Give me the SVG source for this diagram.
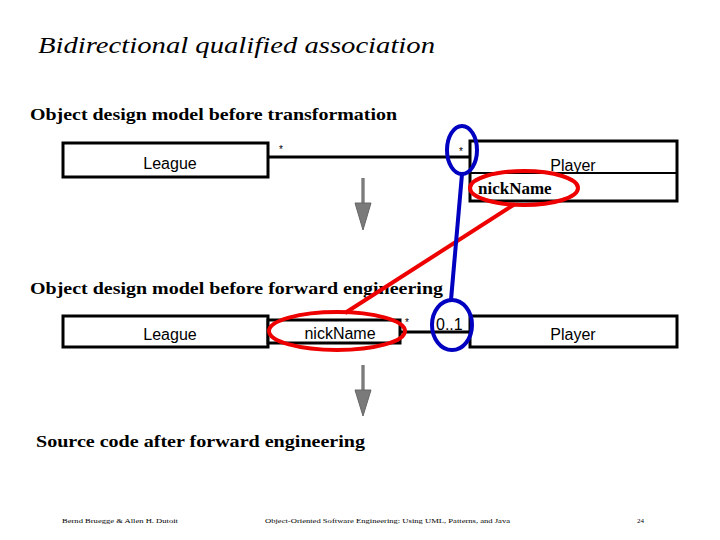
<svg xmlns="http://www.w3.org/2000/svg" width="720" height="540" viewBox="0 0 720 540">
<style>
.box{fill:#fff;stroke:#000;stroke-width:3}
.ss{font-family:"Liberation Sans",Arial,sans-serif;font-size:16px}
.sf{font-family:"Liberation Serif","Times New Roman",serif;font-weight:bold;font-size:17px}
.st{font-family:"Liberation Sans",Arial,sans-serif;font-size:10px}
.ft{font-family:"Liberation Serif",serif;font-size:7px}
</style>
<defs>
<linearGradient id="g" x1="0" x2="1"><stop offset="0" stop-color="#bbb"/><stop offset="0.5" stop-color="#666"/><stop offset="1" stop-color="#bbb"/></linearGradient></defs>
<rect width="720" height="540" fill="#fff"/>
<text x="38" y="53" font-family="Liberation Serif,serif" font-style="italic" font-size="24" textLength="397" lengthAdjust="spacingAndGlyphs">Bidirectional qualified association</text>
<text x="30" y="120" class="sf" textLength="367" lengthAdjust="spacingAndGlyphs">Object design model before transformation</text>
<text x="30" y="294" class="sf" textLength="413" lengthAdjust="spacingAndGlyphs">Object design model before forward engineering</text>
<text x="36" y="447" class="sf" textLength="329" lengthAdjust="spacingAndGlyphs">Source code after forward engineering</text>
<g id="connectors">
<line x1="268" y1="157" x2="470" y2="157" stroke="#000" stroke-width="3"/>
<line x1="400" y1="332" x2="470" y2="332" stroke="#000" stroke-width="3"/>
<text x="279" y="153" class="st">*</text><text x="459" y="155" class="st">*</text>
<text x="405" y="326" class="st">*</text>
<rect x="361" y="178" width="4" height="26" fill="url(#g)"/>
<path d="M355,203 L371,203 L363,230 Z" fill="#7a7a7a" stroke="#666"/>
<rect x="361" y="365" width="4" height="26" fill="url(#g)"/>
<path d="M355,390 L371,390 L363,416 Z" fill="#7a7a7a" stroke="#666"/>
</g>
<g id="league1"><rect class="box" x="63" y="143" width="205" height="34"/><text x="170" y="169" class="ss" text-anchor="middle">League</text></g>
<g id="player1"><rect class="box" x="470" y="141" width="207" height="60"/><line x1="470" y1="173" x2="677" y2="173" stroke="#000" stroke-width="2"/><text x="573" y="171" class="ss" text-anchor="middle">Player</text><text x="478" y="194" class="sf" font-size="16">nickName</text></g>
<g id="league2"><rect class="box" x="63" y="316" width="205" height="31"/><text x="170" y="340" class="ss" text-anchor="middle">League</text></g>
<g id="qualifier"><rect class="box" x="268" y="320" width="132" height="23"/><text x="340" y="339" class="ss" text-anchor="middle">nickName</text></g>
<g id="player2"><rect class="box" x="470" y="316" width="207" height="31"/><text x="573" y="340" class="ss" text-anchor="middle">Player</text><text x="436" y="330" class="ss">0..1</text></g>
<g id="highlights" fill="none" stroke-width="4">
<line x1="515" y1="204" x2="345" y2="313" stroke="#e00"/>
<ellipse cx="524" cy="188" rx="54" ry="17" stroke="#e00"/>
<ellipse cx="337" cy="331" rx="68" ry="19" stroke="#e00"/>
<line x1="462" y1="174" x2="451" y2="300" stroke="#0000c0"/>
<ellipse cx="462" cy="150" rx="15" ry="24" stroke="#0000c0"/>
<ellipse cx="452" cy="325" rx="20" ry="25" stroke="#0000c0"/>
</g>
<text x="62" y="523" class="ft" textLength="116" lengthAdjust="spacingAndGlyphs">Bernd Bruegge &amp; Allen H. Dutoit</text>
<text x="265" y="523" class="ft" textLength="245" lengthAdjust="spacingAndGlyphs">Object-Oriented Software Engineering: Using UML, Patterns, and Java</text>
<text x="637" y="523" class="ft">24</text>
</svg>
